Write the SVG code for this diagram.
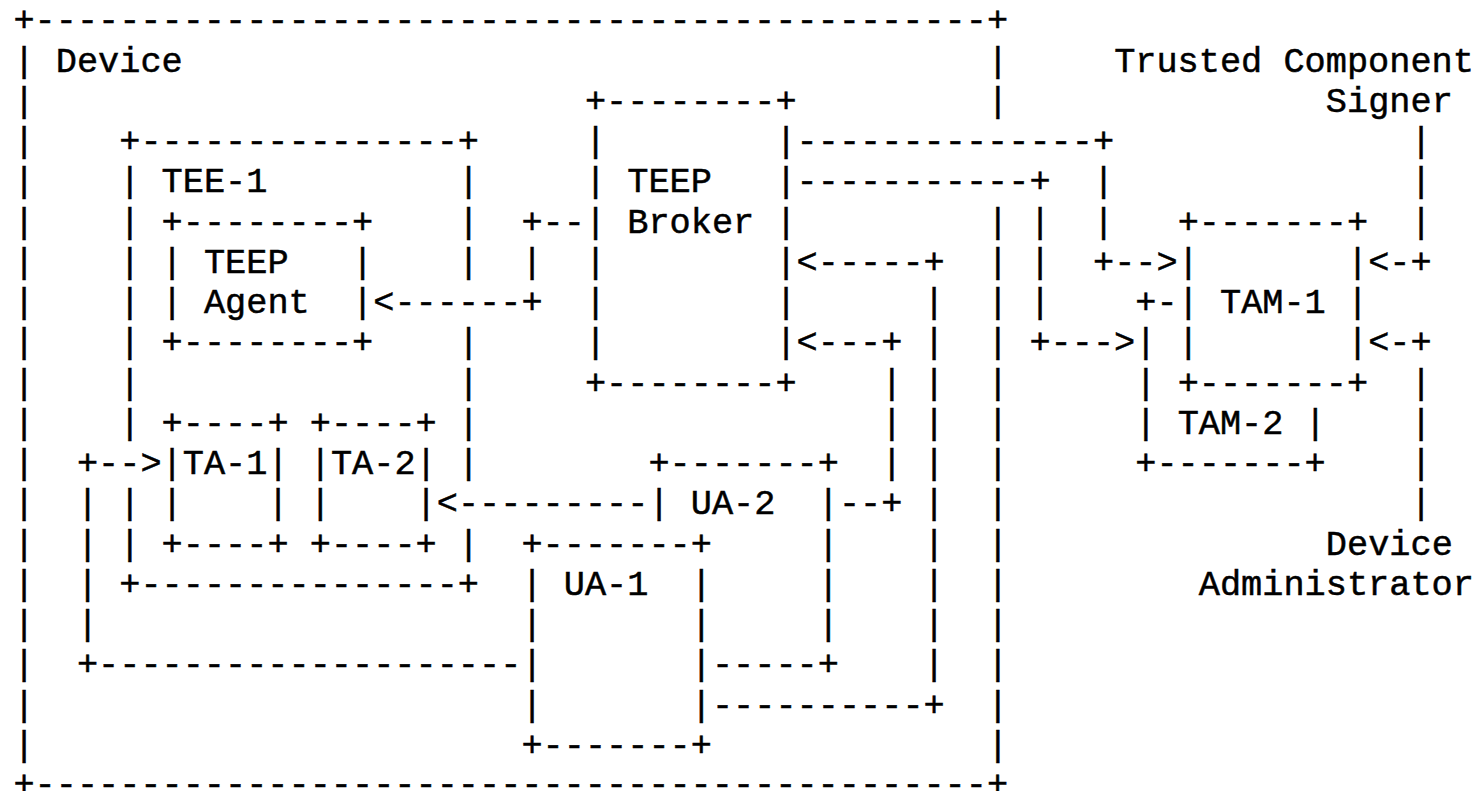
<svg xmlns="http://www.w3.org/2000/svg" width="1482" height="791" viewBox="0 0 1482 791">
<style>
text { font-family: "Liberation Mono", "Courier New", monospace; font-size: 35.28px; fill: #000; stroke: #000; stroke-width: 0.5px; white-space: pre; }
</style>
<rect x="0" y="0" width="1482" height="791" fill="#fff"/>
<g id="device">
<text x="13.4" y="31.45">+---------------------------------------------+</text>
<text x="13.4" y="795">+---------------------------------------------+</text>
<g transform="translate(13.4,0)">
<text y="71.7">|</text><text y="111.95">|</text><text y="152.2">|</text><text y="192.45">|</text><text y="232.7">|</text><text y="272.95">|</text><text y="313.2">|</text><text y="353.45">|</text><text y="393.7">|</text><text y="433.95">|</text><text y="474.2">|</text><text y="514.45">|</text><text y="554.7">|</text><text y="594.95">|</text><text y="635.2">|</text><text y="675.45">|</text><text y="715.7">|</text><text y="755.95">|</text>
</g>
<g transform="translate(987.13,0)">
<text y="71.7">|</text><text y="111.95">|</text><text y="232.7">|</text><text y="272.95">|</text><text y="313.2">|</text><text y="353.45">|</text><text y="393.7">|</text><text y="433.95">|</text><text y="474.2">|</text><text y="514.45">|</text><text y="554.7">|</text><text y="594.95">|</text><text y="635.2">|</text><text y="675.45">|</text><text y="715.7">|</text><text y="755.95">|</text>
</g>
<text x="55.74" y="71.7">Device</text>
</g>
<g id="tee-1">
<text x="119.24" y="152.2">+---------------+</text>
<text x="119.24" y="594.95">+---------------+</text>
<g transform="translate(119.24,0)">
<text y="192.45">|</text><text y="232.7">|</text><text y="272.95">|</text><text y="313.2">|</text><text y="353.45">|</text><text y="393.7">|</text><text y="433.95">|</text><text y="514.45">|</text><text y="554.7">|</text>
</g>
<g transform="translate(457.93,0)">
<text y="192.45">|</text><text y="232.7">|</text><text y="272.95">|</text><text y="353.45">|</text><text y="393.7">|</text><text y="433.95">|</text><text y="474.2">|</text><text y="554.7">|</text>
</g>
<text x="161.58" y="192.45">TEE-1</text>
</g>
<g id="teep-agent">
<text x="161.58" y="232.7">+--------+</text>
<text x="161.58" y="353.45">+--------+</text>
<g transform="translate(161.58,0)"><text y="272.95">|</text><text y="313.2">|</text></g>
<g transform="translate(352.09,0)"><text y="272.95">|</text><text y="313.2">|</text></g>
<text x="203.91" y="272.95">TEEP</text>
<text x="203.91" y="313.2">Agent</text>
</g>
<g id="teep-broker">
<text x="584.94" y="111.95">+--------+</text>
<text x="584.94" y="393.7">+--------+</text>
<g transform="translate(584.94,0)"><text y="152.2">|</text><text y="192.45">|</text><text y="232.7">|</text><text y="272.95">|</text><text y="313.2">|</text><text y="353.45">|</text></g>
<g transform="translate(775.45,0)"><text y="152.2">|</text><text y="192.45">|</text><text y="232.7">|</text><text y="272.95">|</text><text y="313.2">|</text><text y="353.45">|</text></g>
<text x="627.27" y="192.45">TEEP</text>
<text x="627.27" y="232.7">Broker</text>
</g>
<g id="ta-1">
<text x="161.58" y="433.95">+----+</text>
<text x="161.58" y="554.7">+----+</text>
<g transform="translate(161.58,0)"><text y="474.2">|</text><text y="514.45">|</text></g>
<g transform="translate(267.42,0)"><text y="474.2">|</text><text y="514.45">|</text></g>
<text x="182.74" y="474.2">TA-1</text>
</g>
<g id="ta-2">
<text x="309.75" y="433.95">+----+</text>
<text x="309.75" y="554.7">+----+</text>
<g transform="translate(309.75,0)"><text y="474.2">|</text><text y="514.45">|</text></g>
<g transform="translate(415.59,0)"><text y="474.2">|</text><text y="514.45">|</text></g>
<text x="330.92" y="474.2">TA-2</text>
</g>
<g id="ua-2">
<text x="648.44" y="474.2">+-------+</text>
<text x="648.44" y="514.45">|</text>
<g transform="translate(817.78,0)"><text y="514.45">|</text><text y="554.7">|</text><text y="594.95">|</text><text y="635.2">|</text></g>
<text x="690.78" y="514.45">UA-2</text>
<text x="711.94" y="675.45">-----+</text>
</g>
<g id="ua-1">
<text x="521.43" y="554.7">+-------+</text>
<text x="521.43" y="755.95">+-------+</text>
<g transform="translate(521.43,0)"><text y="594.95">|</text><text y="635.2">|</text><text y="675.45">|</text><text y="715.7">|</text></g>
<g transform="translate(690.78,0)"><text y="594.95">|</text><text y="635.2">|</text><text y="675.45">|</text><text y="715.7">|</text></g>
<text x="563.77" y="594.95">UA-1</text>
</g>
<g id="tam-1">
<text x="1177.64" y="232.7">+-------+</text>
<text x="1177.64" y="393.7">+-------+</text>
<g transform="translate(1177.64,0)"><text y="272.95">|</text><text y="313.2">|</text><text y="353.45">|</text></g>
<g transform="translate(1346.98,0)"><text y="272.95">|</text><text y="313.2">|</text><text y="353.45">|</text></g>
<text x="1219.98" y="313.2">TAM-1</text>
</g>
<g id="tam-2">
<text x="1135.3" y="313.2">+-</text>
<g transform="translate(1135.3,0)"><text y="353.45">|</text><text y="393.7">|</text><text y="433.95">|</text></g>
<text x="1304.65" y="433.95">|</text>
<text x="1177.64" y="433.95">TAM-2</text>
<text x="1135.3" y="474.2">+-------+</text>
</g>
<g id="trusted-component-signer">
<text x="1114.14" y="71.7">Trusted Component</text>
<text x="1325.82" y="111.95">Signer</text>
</g>
<g id="device-administrator">
<text x="1325.82" y="554.7">Device</text>
<text x="1198.81" y="594.95">Administrator</text>
</g>
<g id="connectors">
<text x="521.43" y="232.7">+--</text>
<text x="521.43" y="272.95">|</text>
<text x="373.26" y="313.2">&lt;------+</text>
<text x="796.62" y="152.2">--------------+</text>
<g transform="translate(1092.97,0)"><text y="192.45">|</text><text y="232.7">|</text></g>
<text x="1092.97" y="272.95">+--&gt;</text>
<text x="796.62" y="192.45">-----------+</text>
<g transform="translate(1029.46,0)"><text y="232.7">|</text><text y="272.95">|</text><text y="313.2">|</text></g>
<text x="1029.46" y="353.45">+---&gt;</text>
<g transform="translate(1410.49,0)"><text y="152.2">|</text><text y="192.45">|</text><text y="232.7">|</text></g>
<text x="1368.15" y="272.95">&lt;-+</text>
<text x="1368.15" y="353.45">&lt;-+</text>
<g transform="translate(1410.49,0)"><text y="393.7">|</text><text y="433.95">|</text><text y="474.2">|</text><text y="514.45">|</text></g>
<text x="796.62" y="353.45">&lt;---+</text>
<g transform="translate(881.29,0)"><text y="393.7">|</text><text y="433.95">|</text><text y="474.2">|</text></g>
<text x="838.95" y="514.45">--+</text>
<text x="796.62" y="272.95">&lt;-----+</text>
<g transform="translate(923.62,0)"><text y="313.2">|</text><text y="353.45">|</text><text y="393.7">|</text><text y="433.95">|</text><text y="474.2">|</text><text y="514.45">|</text><text y="554.7">|</text><text y="594.95">|</text><text y="635.2">|</text><text y="675.45">|</text></g>
<text x="711.94" y="715.7">----------+</text>
<text x="436.76" y="514.45">&lt;---------</text>
<text x="76.9" y="474.2">+--&gt;</text>
<g transform="translate(76.9,0)"><text y="514.45">|</text><text y="554.7">|</text><text y="594.95">|</text><text y="635.2">|</text></g>
<text x="76.9" y="675.45">+--------------------</text>
</g>
</svg>
